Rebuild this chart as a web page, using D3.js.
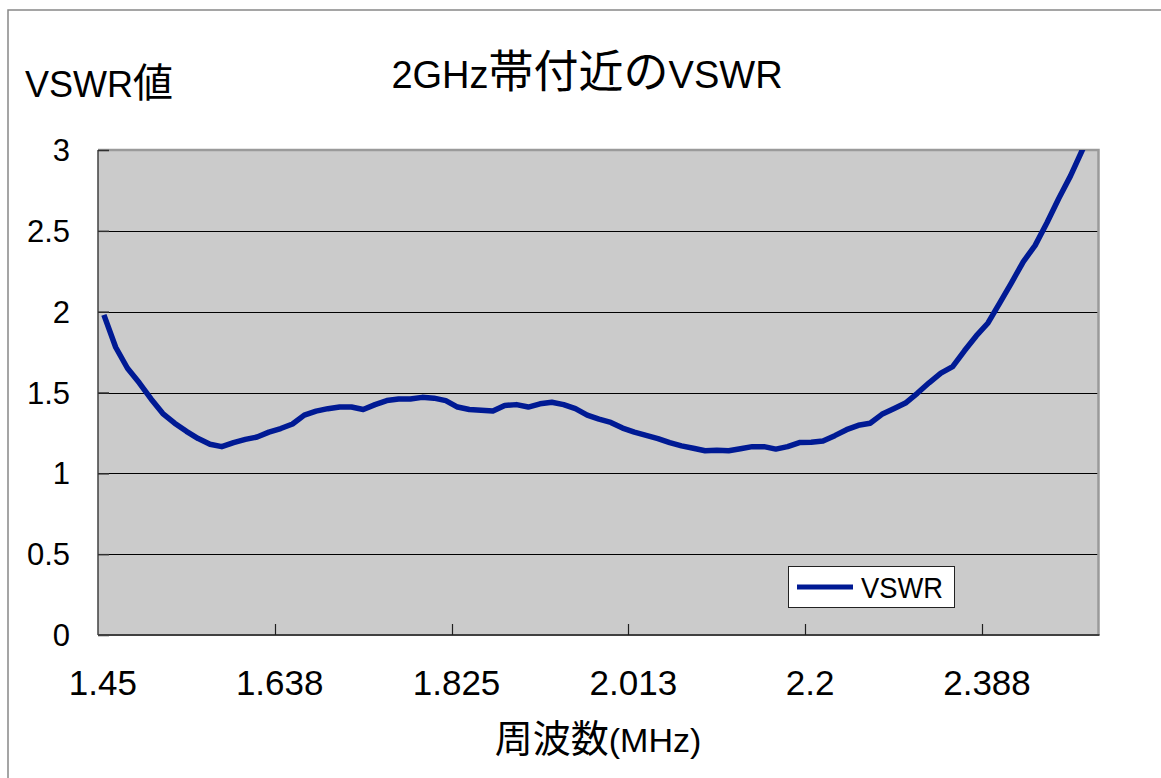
<!DOCTYPE html>
<html>
<head>
<meta charset="utf-8">
<script src="https://cdn.jsdelivr.net/npm/d3@7/dist/d3.min.js"></script>
<style>
  html, body { margin: 0; padding: 0; background: #ffffff; }
  svg { display: block; }
  text { font-family: "Liberation Sans", "Noto Sans CJK JP", sans-serif; fill: #000; }
</style>
</head>
<body>
<svg id="chart" width="1161" height="778"></svg>
<script>
// ---- data ----
const frequencies = [
  1.45, 1.4625, 1.475, 1.4875, 1.5, 1.5125, 1.525, 1.5375, 1.55, 1.5625,
  1.575, 1.5875, 1.6, 1.6125, 1.625, 1.6375, 1.65, 1.6625, 1.675, 1.6875,
  1.7, 1.7125, 1.725, 1.7375, 1.75, 1.7625, 1.775, 1.7875, 1.8, 1.8125,
  1.825, 1.8375, 1.85, 1.8625, 1.875, 1.8875, 1.9, 1.9125, 1.925, 1.9375,
  1.95, 1.9625, 1.975, 1.9875, 2.0, 2.0125, 2.025, 2.0375, 2.05, 2.0625,
  2.075, 2.0875, 2.1, 2.1125, 2.125, 2.1375, 2.15, 2.1625, 2.175, 2.1875,
  2.2, 2.2125, 2.225, 2.2375, 2.25, 2.2625, 2.275, 2.2875, 2.3, 2.3125,
  2.325, 2.3375, 2.35, 2.3625, 2.375, 2.3875, 2.4, 2.4125, 2.425, 2.4375,
  2.45, 2.4625, 2.475, 2.4875, 2.5
];
const vswr = [
  1.98, 1.78, 1.65, 1.56, 1.46, 1.37, 1.31, 1.26, 1.215, 1.18,
  1.165, 1.19, 1.21, 1.225, 1.255, 1.277, 1.305, 1.36, 1.385, 1.40,
  1.41, 1.41, 1.395, 1.425, 1.45, 1.46, 1.46, 1.47, 1.465, 1.45,
  1.41, 1.395, 1.39, 1.385, 1.42, 1.425, 1.41, 1.43, 1.44, 1.425,
  1.40, 1.36, 1.335, 1.315, 1.28, 1.255, 1.235, 1.215, 1.19, 1.17,
  1.155, 1.14, 1.143, 1.14, 1.152, 1.165, 1.165, 1.15, 1.165, 1.19,
  1.192, 1.20, 1.233, 1.27, 1.297, 1.31, 1.365, 1.40, 1.435, 1.495,
  1.56, 1.62, 1.66, 1.758, 1.85, 1.93, 2.055, 2.18, 2.31, 2.41,
  2.55, 2.70, 2.84, 3.0, 3.15
];
const xTickValues = [1.45, 1.6375, 1.825, 2.0125, 2.2, 2.3875];
const xTickLabels = ["1.45", "1.638", "1.825", "2.013", "2.2", "2.388"];
const yTickValues = [0, 0.5, 1, 1.5, 2, 2.5, 3];
const yTickLabels = ["0", "0.5", "1", "1.5", "2", "2.5", "3"];
const seriesName = "VSWR";
const chartTitle = ["2GHz", "帯付近の", "VSWR"];
const yTitle = ["VSWR", "値"];
const xTitle = ["周波数", "(MHz)"];

// ---- layout ----
const svg = d3.select("#chart");
const plot = { left: 98, right: 1100, top: 150, bottom: 635 };
const lineColor = "#001a94";

const x = d3.scaleBand().domain(frequencies).range([plot.left, plot.right]).paddingInner(0).paddingOuter(0);
const y = d3.scaleLinear().domain([0, 3]).range([plot.bottom, plot.top]);
const bw = x.bandwidth();

// outer chart border
svg.append("rect")
  .attr("x", 8).attr("y", 10).attr("width", 1200).attr("height", 800)
  .attr("fill", "#fff").attr("stroke", "#888").attr("stroke-width", 1.5);

// plot background
svg.append("rect")
  .attr("x", plot.left).attr("y", plot.top)
  .attr("width", 1098.5 - plot.left).attr("height", plot.bottom - plot.top)
  .attr("fill", "#cbcbcb");

// gridlines
svg.append("g").selectAll("line")
  .data(yTickValues.filter(v => v > 0 && v < 3))
  .join("line")
  .attr("x1", plot.left).attr("x2", 1098.5)
  .attr("y1", d => Math.round(y(d)) + 0.5).attr("y2", d => Math.round(y(d)) + 0.5)
  .attr("stroke", "#000").attr("stroke-width", 1.2);

// plot border top/right (gray)
svg.append("path")
  .attr("d", `M${plot.left},${plot.top} H1098.5 V${plot.bottom}`)
  .attr("fill", "none").attr("stroke", "#9a9a9a").attr("stroke-width", 2.5);

// y axis (ticks inside)
const yAxis = d3.axisRight(y).tickValues(yTickValues).tickSize(11).tickFormat("");
const gy = svg.append("g").attr("transform", `translate(${plot.left},0)`).call(yAxis);
gy.select(".domain").attr("stroke", "#404040").attr("stroke-width", 1.5).attr("d", `M0,${plot.top}V${plot.bottom}`);
gy.selectAll(".tick line").attr("stroke", "#303030").attr("stroke-width", 1.5);

svg.append("g").selectAll("text")
  .data(yTickValues)
  .join("text")
  .attr("x", 70).attr("y", d => y(d) + 11)
  .attr("text-anchor", "end")
  .attr("font-size", 31)
  .text((d, i) => yTickLabels[i]);

// x axis (ticks inside, between categories)
const gx = svg.append("g");
gx.append("line")
  .attr("x1", plot.left).attr("x2", 1099.5)
  .attr("y1", plot.bottom).attr("y2", plot.bottom)
  .attr("stroke", "#404040").attr("stroke-width", 2);
gx.selectAll("line.tick")
  .data(xTickValues.slice(1))
  .join("line").attr("class", "tick")
  .attr("x1", d => Math.round(x(d)) + 0.5).attr("x2", d => Math.round(x(d)) + 0.5)
  .attr("y1", plot.bottom).attr("y2", plot.bottom - 11)
  .attr("stroke", "#202020").attr("stroke-width", 1.2);
gx.selectAll("text")
  .data(xTickValues)
  .join("text")
  .attr("x", d => x(d) + bw / 2 - 1)
  .attr("y", 695)
  .attr("text-anchor", "middle")
  .attr("font-size", 35)
  .text((d, i) => xTickLabels[i]);

// clip for the series
svg.append("clipPath").attr("id", "plotClip")
  .append("rect").attr("x", plot.left).attr("y", plot.top)
  .attr("width", 1098.5 - plot.left).attr("height", plot.bottom - plot.top);

const line = d3.line()
  .x((d, i) => x(frequencies[i]) + bw / 2)
  .y(d => y(d));

svg.append("path")
  .datum(vswr)
  .attr("clip-path", "url(#plotClip)")
  .attr("d", line)
  .attr("fill", "none")
  .attr("stroke", lineColor)
  .attr("stroke-width", 5.5)
  .attr("stroke-linejoin", "round");

// legend
const lg = svg.append("g");
lg.append("rect")
  .attr("x", 788.5).attr("y", 566.5).attr("width", 166).attr("height", 41)
  .attr("fill", "#fff").attr("stroke", "#222").attr("stroke-width", 1);
lg.append("line")
  .attr("x1", 797).attr("x2", 853).attr("y1", 587).attr("y2", 587)
  .attr("stroke", lineColor).attr("stroke-width", 5);
lg.append("text")
  .attr("x", 861).attr("y", 598)
  .attr("font-size", 30)
  .attr("textLength", 82).attr("lengthAdjust", "spacingAndGlyphs")
  .text(seriesName);

// chart title
const t = svg.append("text").attr("x", 587).attr("y", 88).attr("text-anchor", "middle");
t.append("tspan").attr("font-size", 38).text(chartTitle[0]);
t.append("tspan").attr("font-size", 45).text(chartTitle[1]);
t.append("tspan").attr("font-size", 38).text(chartTitle[2]);

// y axis title
const yt = svg.append("text").attr("x", 25).attr("y", 97);
yt.append("tspan").attr("font-size", 36).text(yTitle[0]);
yt.append("tspan").attr("font-size", 40).text(yTitle[1]);

// x axis title
const xt = svg.append("text").attr("x", 598).attr("y", 752).attr("text-anchor", "middle");
xt.append("tspan").attr("font-size", 38).text(xTitle[0]);
xt.append("tspan").attr("font-size", 34).text(xTitle[1]);
</script>
</body>
</html>
